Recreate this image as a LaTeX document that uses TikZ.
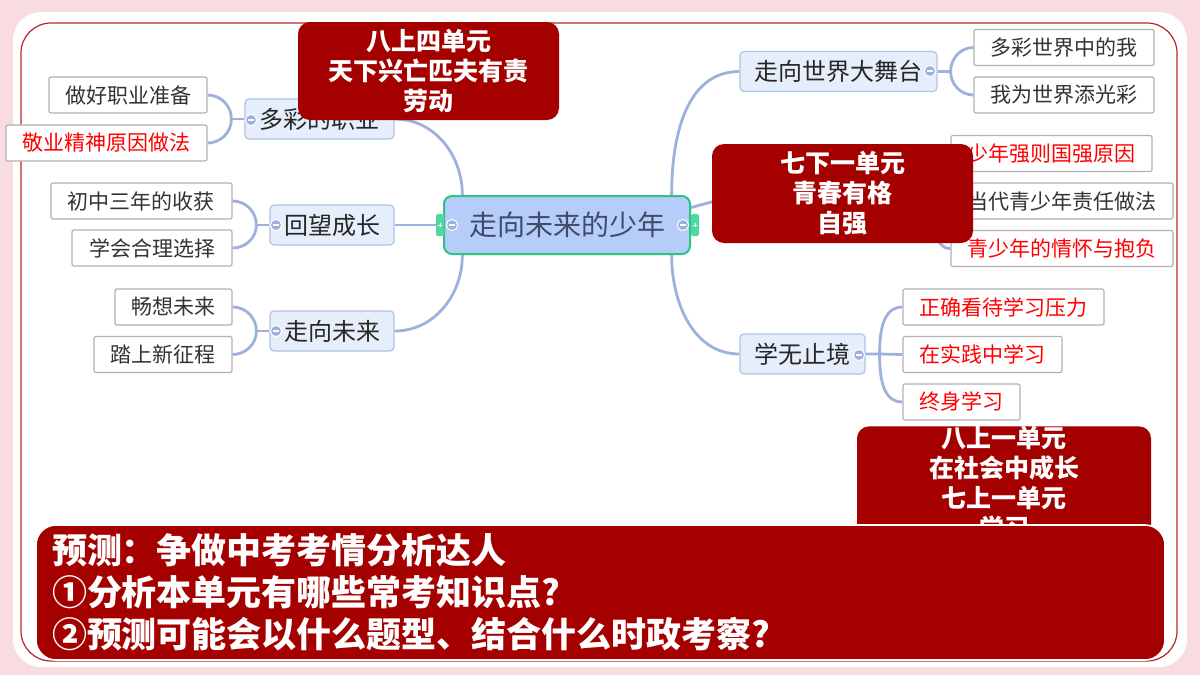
\documentclass[tikz,border=0pt]{standalone}
\usepackage{fontspec}
\setmainfont{Noto Sans CJK SC}
\definecolor{blush}{HTML}{F9DCE0}
\definecolor{framered}{HTML}{B8252A}
\definecolor{boxred}{HTML}{A50000}
\definecolor{linkblue}{HTML}{9DB1DD}
\definecolor{subfill}{HTML}{E6EEFC}
\definecolor{subline}{HTML}{AFC3E9}
\definecolor{rootfill}{HTML}{B6CDF9}
\definecolor{rootline}{HTML}{2BC486}
\definecolor{roottext}{HTML}{3E4C6C}
\definecolor{mint}{HTML}{52D6A2}
\newcommand\foldmark[2]{%
  \filldraw[fill=linkblue,draw=white,line width=.5pt] (#1,#2) circle (2.8pt);
  \draw[white,line width=.7pt] (#1-3,#2) -- (#1+3,#2);}
\newcommand\plustab[2]{%
  \fill[mint,rounded corners=1pt] (#1-4,#2-11) rectangle (#1+4,#2+11);
  \draw[white,line width=.5pt] (#1-2,#2) -- (#1+2,#2) (#1,#2-2) -- (#1,#2+2);}
\begin{document}
\begin{tikzpicture}[x=.5pt,y=-.5pt,
  leaf/.style={draw=black!30,fill=white,rounded corners=1pt,line width=.6pt,minimum height=18pt,inner sep=0pt,font=\fontsize{10.5}{12}\selectfont,text=black!80},
  hot/.style={leaf,text=red},
  topic/.style={draw=subline,fill=subfill,rounded corners=2pt,line width=.6pt,minimum height=20pt,inner sep=0pt,font=\fontsize{12}{14}\selectfont,text=black!85},
  root/.style={draw=rootline,fill=rootfill,rounded corners=4pt,line width=1pt,minimum width=123pt,minimum height=29pt,inner sep=0pt,font=\fontsize{14}{16}\selectfont,text=roottext},
  link/.style={draw=linkblue,line width=1.4pt},
  unitbox/.style={fill=boxred,rounded corners=6pt,text=white,align=center,inner sep=0pt,font=\bfseries\fontsize{12.5}{15}\selectfont},
  forecast/.style={fill=boxred,draw=white,line width=.8pt,rounded corners=10pt,text=white,align=left,text width=548.5pt,inner xsep=8pt,minimum height=67.5pt,font=\bfseries\fontsize{17.5}{21}\selectfont}]
\useasboundingbox (0,0) rectangle (1200,675);
\fill[blush] (0,0) rectangle (1200,675);
\fill[white,rounded corners=14pt] (13,12) rectangle (1187,667);
\draw[framered,line width=.6pt,rounded corners=15pt] (21,23) rectangle (1177,661);

\node[root] (root) at (567,225) {走向未来的少年};
\node[topic,minimum width=74.5pt] (career) at (319.5,119) {多彩的职业};
\node[topic,minimum width=62pt] (growth) at (332,225) {回望成长};
\node[topic,minimum width=62pt] (future) at (332,331) {走向未来};
\node[topic,minimum width=98.5pt] (world) at (838.5,71.5) {走向世界大舞台};
\node[topic,minimum width=62.5pt] (study) at (802.5,354) {学无止境};
\coordinate (youth) at (715,201);
\coordinate (youthE) at (925,201);

\node[leaf,minimum width=79pt] (prep) at (128,95) {做好职业准备};
\node[hot,minimum width=100.5pt] (spirit) at (106.5,143) {敬业精神原因做法};
\node[leaf,minimum width=90.5pt] (harvest) at (141.5,201) {初中三年的收获};
\node[leaf,minimum width=80pt] (choice) at (152,248) {学会合理选择};
\node[leaf,minimum width=58.5pt] (dream) at (173.5,307) {畅想未来};
\node[leaf,minimum width=69pt] (journey) at (163,354.5) {踏上新征程};
\node[leaf,minimum width=90pt] (colorful) at (1064,47.5) {多彩世界中的我};
\node[leaf,minimum width=90pt] (shine) at (1064,95) {我为世界添光彩};
\node[hot,minimum width=100.5pt] (strong) at (1051.5,153.5) {少年强则国强原因};
\node[leaf,minimum width=111pt] (duty) at (1062,201) {当代青少年责任做法};
\node[hot,minimum width=111pt] (ambition) at (1062,248.5) {青少年的情怀与抱负};
\node[hot,minimum width=100.5pt] (pressure) at (1003.5,307) {正确看待学习压力};
\node[hot,minimum width=79.5pt] (practice) at (982.5,354.5) {在实践中学习};
\node[hot,minimum width=58.5pt] (lifelong) at (961.5,402) {终身学习};

\draw[link] (root.164) to[out=90,in=0] (career.east);
\draw[link] (root.west) -- (growth.east);
\draw[link] (root.196) to[out=-90,in=0] (future.east);
\draw[link] (root.16) to[out=90,in=180] (world.west);
\draw[link] (root.8) -- (youth);
\draw[link] (root.-16) to[out=-90,in=180] (study.west);

\foreach \hub/\up/\down in {career/prep/spirit,growth/harvest/choice,future/dream/journey}{
  \path (\hub.west) ++(-13,0) coordinate (j);
  \draw[link] (\hub.west) -- (j);
  \draw[link] (j) to[out=90,in=0] (\up.east);
  \draw[link] (j) to[out=-90,in=0] (\down.east);
}
\path (world.east) ++(13,0) coordinate (worldJ);
\draw[link] (world.east) -- (worldJ);
\draw[link] (worldJ) to[out=90,in=180] (colorful.west);
\draw[link] (worldJ) to[out=-90,in=180] (shine.west);
\path (youthE) ++(13,0) coordinate (youthJ);
\draw[link] (youthE) -- (youthJ) -- (duty.west);
\draw[link] (youthJ) to[out=90,in=180] (strong.west);
\draw[link] (youthJ) to[out=-90,in=180] (ambition.west);
\path (study.east) ++(14,0) coordinate (studyJ);
\draw[link] (study.east) -- (studyJ) -- (practice.west);
\draw[link] (studyJ) to[out=90,in=180] (pressure.west);
\draw[link] (studyJ) to[out=-90,in=180] (lifelong.west);

\foldmark{251}{120}
\foldmark{276}{225}
\foldmark{276}{331}
\foldmark{930}{71}
\foldmark{859}{355}
\plustab{440}{225}
\plustab{695}{225}
\foldmark{452}{225}
\foldmark{683}{225}

\node[unitbox,minimum width=130.5pt,minimum height=49pt] (unitA) at (428.5,71) {八上四单元\\天下兴亡匹夫有责\\劳动};
\node[unitbox,minimum width=130.5pt,minimum height=49.5pt] (unitB) at (842.5,193.5) {七下一单元\\青春有格\\自强};
\node[unitbox,minimum width=147pt,anchor=north] (unitC) at (1004,426) {八上一单元\\在社会中成长\\七上一单元\\学习};
\node[forecast] (predict) at (600.5,592.5) {预测：争做中考考情分析达人\\①分析本单元有哪些常考知识点?\\②预测可能会以什么题型、结合什么时政考察?};
\end{tikzpicture}
\end{document}
